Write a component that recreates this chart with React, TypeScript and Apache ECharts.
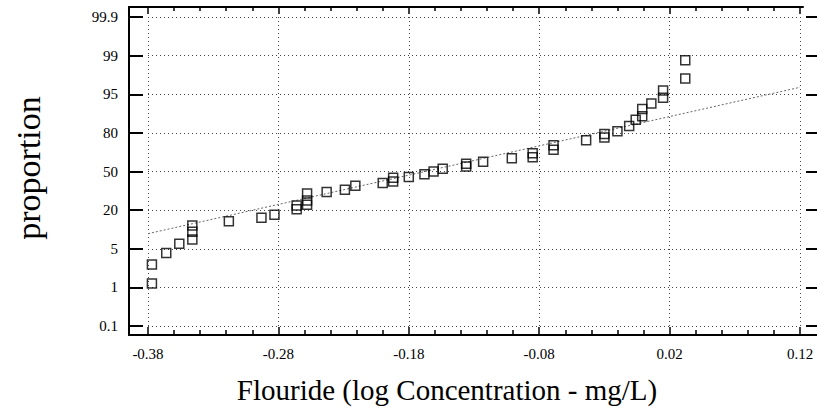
import React, { useEffect, useRef } from "react";
import * as echarts from "echarts";

// Probability-scale tick labels (evenly spaced positions 0..8)
const yTickLabels = ["0.1", "1", "5", "20", "50", "80", "95", "99", "99.9"];
const xTicks = [-0.38, -0.28, -0.18, -0.08, 0.02, 0.12];

// log concentration values (x) and their probability-scale positions (y)
const logConc = [
  -0.377, -0.377, -0.366, -0.356, -0.346, -0.346, -0.346, -0.318, -0.293, -0.283,
  -0.266, -0.266, -0.258, -0.258, -0.258, -0.243, -0.229, -0.221, -0.2, -0.192,
  -0.192, -0.18, -0.168, -0.161, -0.154, -0.136, -0.136, -0.123, -0.101, -0.085,
  -0.085, -0.069, -0.069, -0.044, -0.03, -0.03, -0.02, -0.011, -0.006, -0.001,
  -0.001, 0.006, 0.015, 0.015, 0.032, 0.032,
];
const probPos = [
  1.1, 1.59, 1.89, 2.13, 2.6, 2.44, 2.24, 2.71, 2.8, 2.88,
  3.12, 3.02, 3.43, 3.25, 3.14, 3.47, 3.53, 3.63, 3.7, 3.84,
  3.74, 3.86, 3.93, 4.0, 4.07, 4.2, 4.13, 4.25, 4.34, 4.47,
  4.37, 4.68, 4.56, 4.81, 4.97, 4.88, 5.04, 5.18, 5.34, 5.62,
  5.43, 5.76, 6.1, 5.91, 6.88, 6.41,
];
// fitted reference line (end points)
const fitX = [-0.38, 0.12];
const fitY = [2.39, 6.18];

const SERIF = "Liberation Serif";

export default function App() {
  const ref = useRef<HTMLDivElement>(null);
  useEffect(() => {
    if (!ref.current) return;
    const chart = echarts.init(ref.current, undefined, { renderer: "svg" });
    const dotted = { show: true, lineStyle: { color: "#444", width: 1, type: [1, 3] as any } };
    const xCommon = {
      type: "value" as const,
      min: xTicks[0],
      max: xTicks[xTicks.length - 1],
      interval: 0.1,
    };
    const noLine = { show: false, onZero: false };
    chart.setOption({
      animation: false,
      backgroundColor: "#fff",
      textStyle: { fontFamily: SERIF },
      grid: [
        { left: 148, right: 17, top: 17, bottom: 90 },
        { left: 129, right: 0, top: 7, bottom: 81 },
        { left: 129, right: 14, top: 7, bottom: 81 },
      ],
      xAxis: [
        {
          ...xCommon,
          gridIndex: 0,
          position: "bottom",
          offset: 9,
          axisLine: noLine,
          axisTick: { show: true, inside: true, length: 8, lineStyle: { color: "#000", width: 1.5 } },
          minorTick: { show: true, splitNumber: 5, length: 5, lineStyle: { color: "#000", width: 1.5 } },
          axisLabel: {
            color: "#000",
            fontFamily: SERIF,
            fontSize: 15,
            margin: 11,
            formatter: (v: number) => v.toFixed(2),
          },
          splitLine: dotted,
        },
        {
          ...xCommon,
          gridIndex: 0,
          position: "top",
          offset: 10,
          axisLine: noLine,
          axisTick: { show: true, inside: true, length: 7, lineStyle: { color: "#000", width: 1.5 } },
          minorTick: { show: true, splitNumber: 5, length: 4, lineStyle: { color: "#000", width: 1.5 } },
          axisLabel: { show: false },
          splitLine: { show: false },
        },
        {
          type: "value",
          gridIndex: 1,
          position: "bottom",
          axisLine: { show: true, onZero: false, lineStyle: { color: "#000", width: 2 } },
          axisTick: { show: false },
          axisLabel: { show: false },
          splitLine: { show: false },
        },
        {
          type: "value",
          gridIndex: 2,
          position: "top",
          axisLine: { show: true, onZero: false, lineStyle: { color: "#000", width: 2 } },
          axisTick: { show: false },
          axisLabel: { show: false },
          splitLine: { show: false },
        },
      ],
      yAxis: [
        {
          type: "value",
          gridIndex: 0,
          position: "left",
          offset: 19,
          min: 0,
          max: yTickLabels.length - 1,
          interval: 1,
          axisLine: noLine,
          axisTick: { show: true, inside: true, length: 14, lineStyle: { color: "#000", width: 2 } },
          axisLabel: {
            color: "#000",
            fontFamily: SERIF,
            fontSize: 15,
            margin: 11,
            formatter: (v: number) => yTickLabels[Math.round(v)] ?? "",
          },
          splitLine: dotted,
        },
        {
          type: "value",
          gridIndex: 0,
          position: "right",
          offset: 6,
          min: 0,
          max: yTickLabels.length - 1,
          interval: 1,
          axisLine: noLine,
          axisTick: { show: true, inside: false, length: 11, lineStyle: { color: "#000", width: 2 } },
          axisLabel: { show: false },
          splitLine: { show: false },
        },
        {
          type: "value",
          gridIndex: 1,
          position: "left",
          axisLine: { show: true, onZero: false, lineStyle: { color: "#000", width: 2 } },
          axisTick: { show: false },
          axisLabel: { show: false },
          splitLine: { show: false },
        },
        {
          type: "value",
          gridIndex: 2,
          show: false,
        },
      ],
      series: [
        {
          type: "line",
          xAxisIndex: 0,
          yAxisIndex: 0,
          data: fitX.map((x, i) => [x, fitY[i]]),
          showSymbol: false,
          symbol: "none",
          lineStyle: { color: "#666", width: 1, type: [2, 2] as any },
          z: 2,
        },
        {
          type: "scatter",
          xAxisIndex: 0,
          yAxisIndex: 0,
          data: logConc.map((x, i) => [x, probPos[i]]),
          symbol: "rect",
          symbolSize: 9,
          itemStyle: { color: "rgba(255,255,255,0)", borderColor: "#000", borderWidth: 1.5 },
          z: 3,
        },
      ],
      graphic: [
        {
          type: "text",
          x: 447,
          y: 390,
          style: {
            text: "Flouride (log Concentration - mg/L)",
            fontFamily: SERIF,
            fontSize: 29,
            fill: "#000",
            align: "center",
            verticalAlign: "middle",
          },
        },
        {
          type: "text",
          x: 28,
          y: 168,
          rotation: Math.PI / 2,
          style: {
            text: "proportion",
            fontFamily: SERIF,
            fontSize: 34,
            fill: "#000",
            align: "center",
            verticalAlign: "middle",
          },
        },
      ],
    });
    return () => chart.dispose();
  }, []);
  return <div ref={ref} style={{ width: 817, height: 416, position: "absolute", left: 0, top: 0 }} />;
}
